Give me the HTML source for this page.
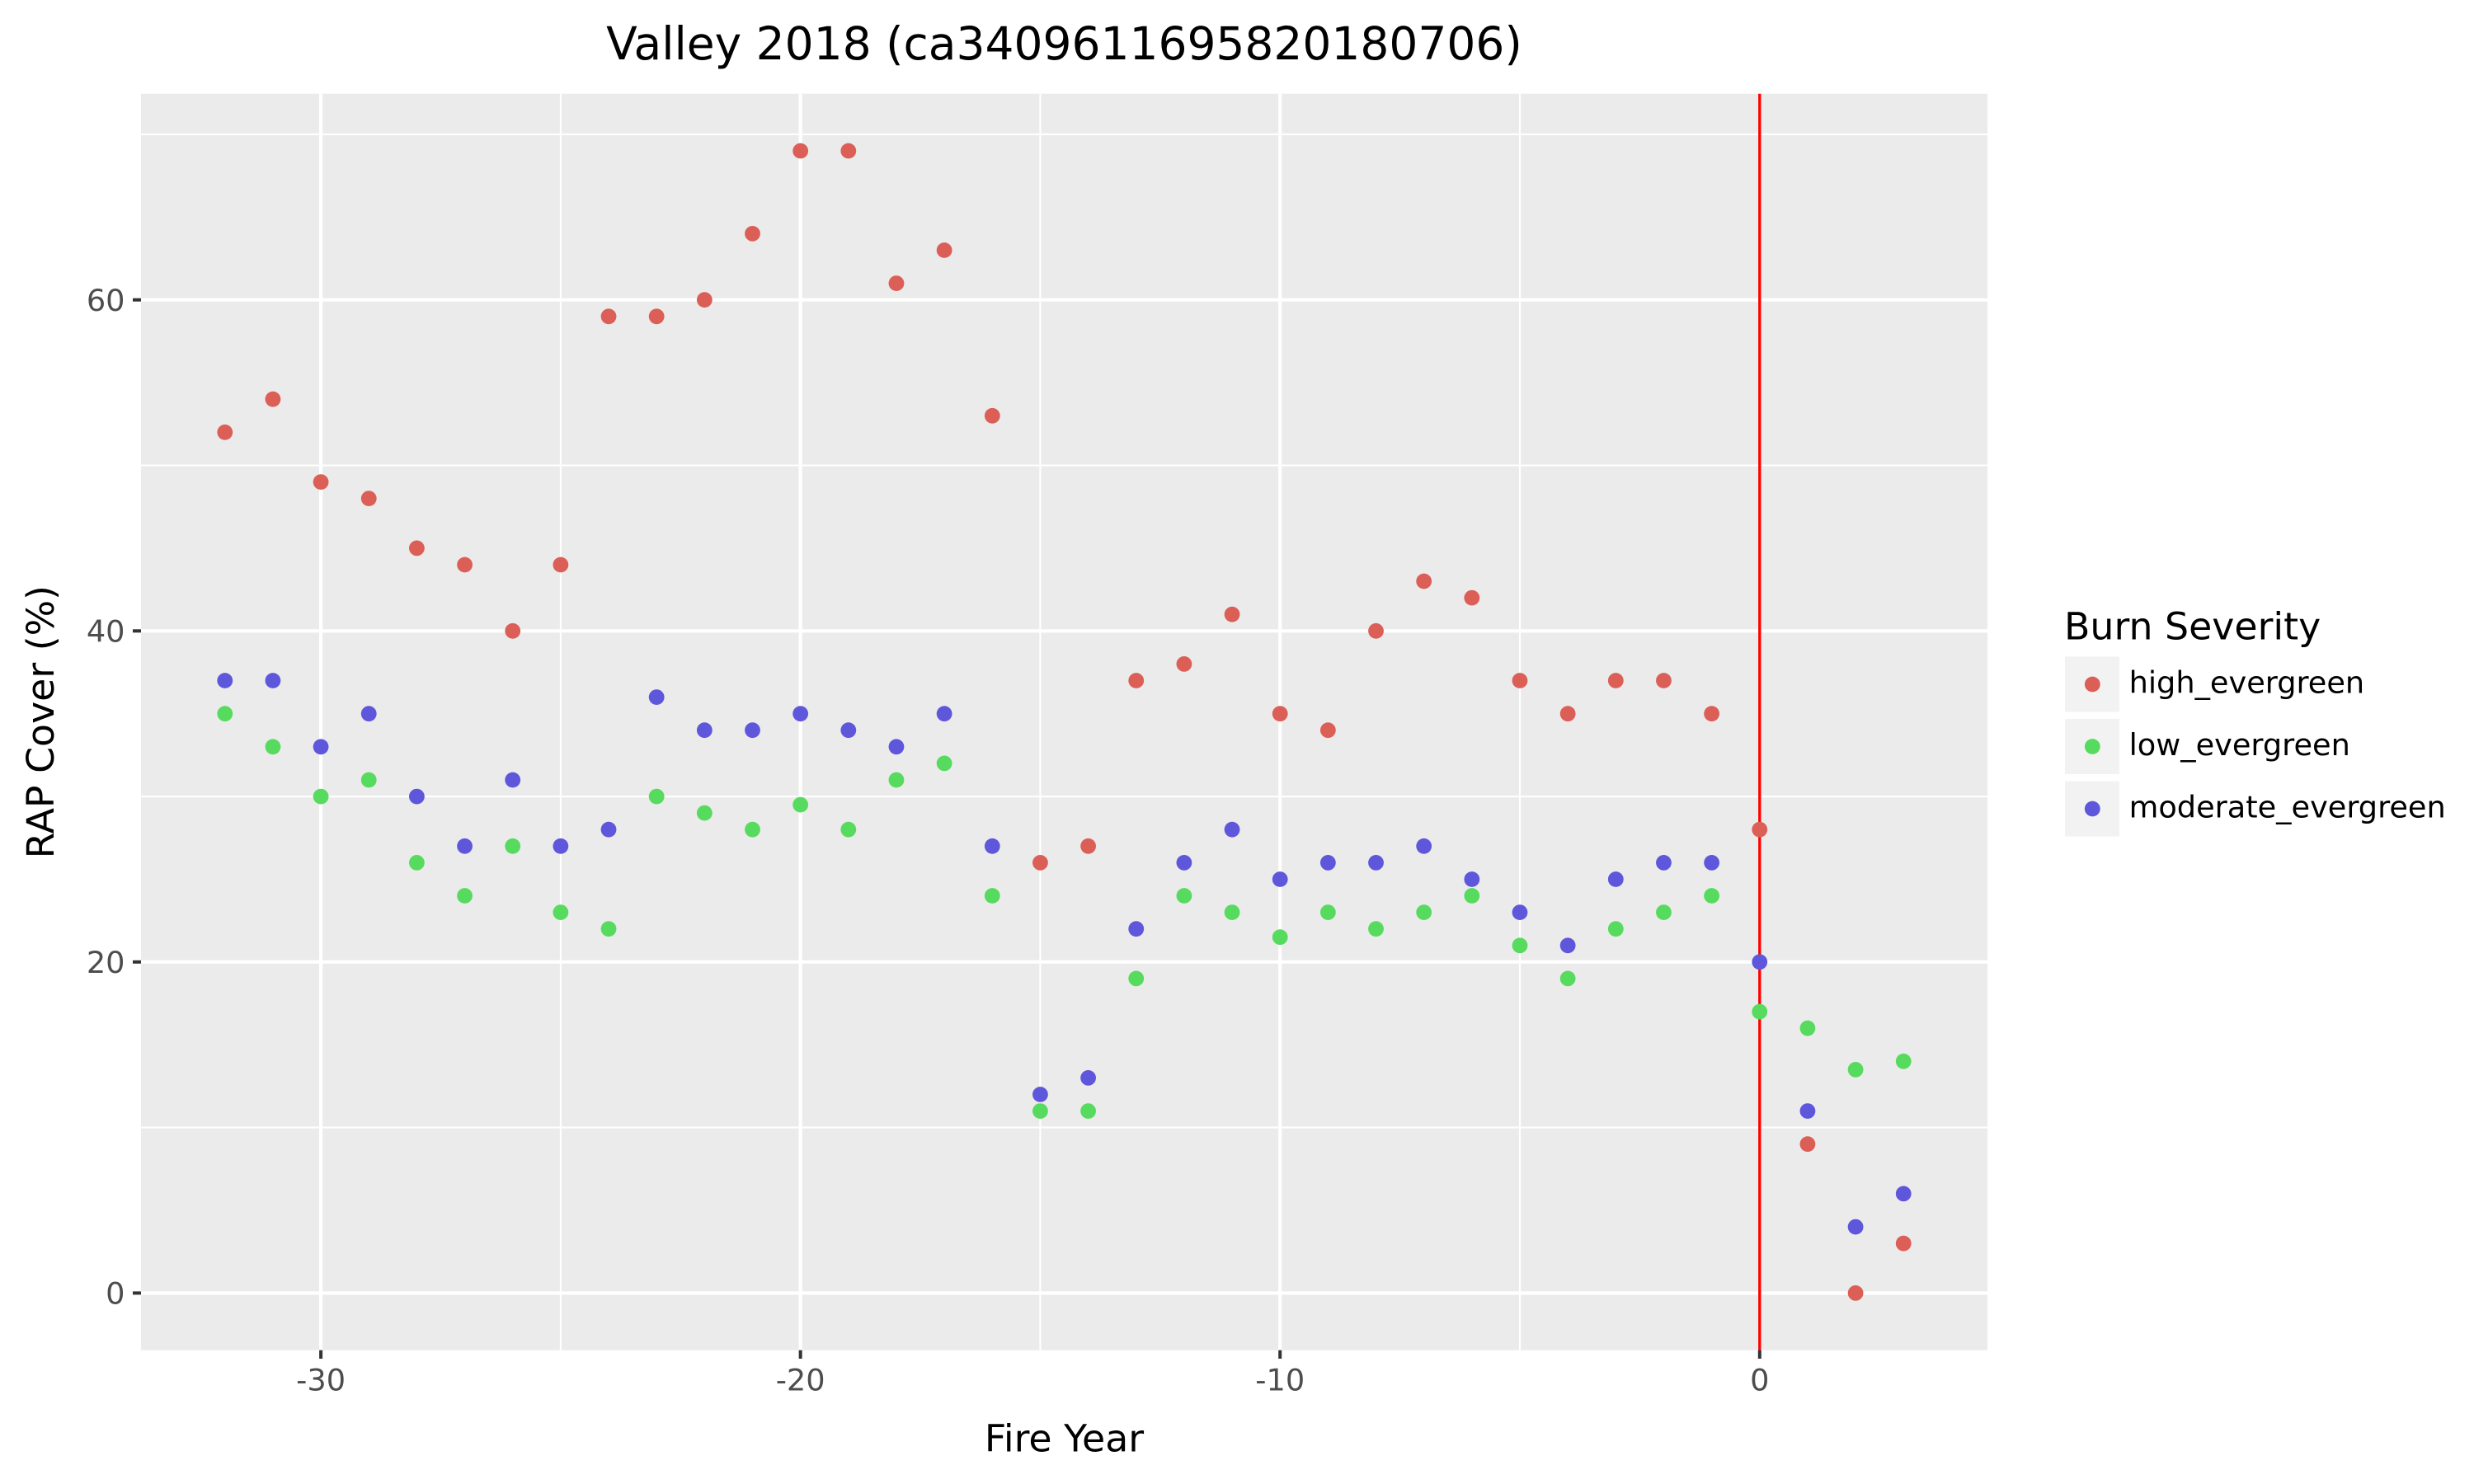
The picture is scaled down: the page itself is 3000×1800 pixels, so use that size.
<!DOCTYPE html>
<html>
<head>
<meta charset="utf-8">
<style>
html,body{margin:0;padding:0;background:#fff;}
svg{display:block;}
text{font-family:"DejaVu Sans","Liberation Sans",sans-serif;}
</style>
</head>
<body>
<svg xmlns="http://www.w3.org/2000/svg" width="3000" height="1800" viewBox="0 0 3000 1800">
<rect x="0" y="0" width="3000" height="1800" fill="#ffffff"/>
<!-- panel -->
<rect x="171" y="113.7" width="2239" height="1524" fill="#ebebeb"/>
<!-- minor grid -->
<g stroke="#ffffff" stroke-width="2.08">
<line x1="171" x2="2410" y1="1367.6" y2="1367.6"/>
<line x1="171" x2="2410" y1="966.1" y2="966.1"/>
<line x1="171" x2="2410" y1="564.5" y2="564.5"/>
<line x1="171" x2="2410" y1="162.9" y2="162.9"/>
<line x1="679.9" x2="679.9" y1="113.7" y2="1637.7"/>
<line x1="1261.4" x2="1261.4" y1="113.7" y2="1637.7"/>
<line x1="1843.0" x2="1843.0" y1="113.7" y2="1637.7"/>
</g>
<!-- major grid -->
<g stroke="#ffffff" stroke-width="4.17">
<line x1="171" x2="2410" y1="1568.4" y2="1568.4"/>
<line x1="171" x2="2410" y1="1166.8" y2="1166.8"/>
<line x1="171" x2="2410" y1="765.3" y2="765.3"/>
<line x1="171" x2="2410" y1="363.7" y2="363.7"/>
<line x1="389.1" x2="389.1" y1="113.7" y2="1637.7"/>
<line x1="970.65" x2="970.65" y1="113.7" y2="1637.7"/>
<line x1="1552.2" x2="1552.2" y1="113.7" y2="1637.7"/>
<line x1="2133.8" x2="2133.8" y1="113.7" y2="1637.7"/>
</g>
<!-- vline -->
<line x1="2133.8" x2="2133.8" y1="113.7" y2="1637.7" stroke="#ff0000" stroke-width="3.4"/>
<!-- high_evergreen -->
<g fill="#db5f57">
<circle cx="272.77" cy="524.3" r="9.4"/>
<circle cx="330.93" cy="484.2" r="9.4"/>
<circle cx="389.09" cy="584.6" r="9.4"/>
<circle cx="447.24" cy="604.6" r="9.4"/>
<circle cx="505.40" cy="664.9" r="9.4"/>
<circle cx="563.56" cy="685.0" r="9.4"/>
<circle cx="621.71" cy="765.3" r="9.4"/>
<circle cx="679.87" cy="685.0" r="9.4"/>
<circle cx="738.03" cy="383.8" r="9.4"/>
<circle cx="796.18" cy="383.8" r="9.4"/>
<circle cx="854.34" cy="363.7" r="9.4"/>
<circle cx="912.49" cy="283.4" r="9.4"/>
<circle cx="970.65" cy="183.0" r="9.4"/>
<circle cx="1028.81" cy="183.0" r="9.4"/>
<circle cx="1086.96" cy="343.6" r="9.4"/>
<circle cx="1145.12" cy="303.5" r="9.4"/>
<circle cx="1203.28" cy="504.3" r="9.4"/>
<circle cx="1261.43" cy="1046.4" r="9.4"/>
<circle cx="1319.59" cy="1026.3" r="9.4"/>
<circle cx="1377.74" cy="825.5" r="9.4"/>
<circle cx="1435.90" cy="805.4" r="9.4"/>
<circle cx="1494.06" cy="745.2" r="9.4"/>
<circle cx="1552.21" cy="865.7" r="9.4"/>
<circle cx="1610.37" cy="885.7" r="9.4"/>
<circle cx="1668.53" cy="765.3" r="9.4"/>
<circle cx="1726.68" cy="705.0" r="9.4"/>
<circle cx="1784.84" cy="725.1" r="9.4"/>
<circle cx="1842.99" cy="825.5" r="9.4"/>
<circle cx="1901.15" cy="865.7" r="9.4"/>
<circle cx="1959.31" cy="825.5" r="9.4"/>
<circle cx="2017.46" cy="825.5" r="9.4"/>
<circle cx="2075.62" cy="865.7" r="9.4"/>
<circle cx="2133.77" cy="1006.2" r="9.4"/>
<circle cx="2191.93" cy="1387.7" r="9.4"/>
<circle cx="2250.09" cy="1568.4" r="9.4"/>
<circle cx="2308.24" cy="1508.2" r="9.4"/>
</g>
<!-- low_evergreen -->
<g fill="#57db5f">
<circle cx="272.77" cy="865.7" r="9.4"/>
<circle cx="330.93" cy="905.8" r="9.4"/>
<circle cx="389.09" cy="966.1" r="9.4"/>
<circle cx="447.24" cy="946.0" r="9.4"/>
<circle cx="505.40" cy="1046.4" r="9.4"/>
<circle cx="563.56" cy="1086.5" r="9.4"/>
<circle cx="621.71" cy="1026.3" r="9.4"/>
<circle cx="679.87" cy="1106.6" r="9.4"/>
<circle cx="738.03" cy="1126.7" r="9.4"/>
<circle cx="796.18" cy="966.1" r="9.4"/>
<circle cx="854.34" cy="986.1" r="9.4"/>
<circle cx="912.49" cy="1006.2" r="9.4"/>
<circle cx="970.65" cy="976.1" r="9.4"/>
<circle cx="1028.81" cy="1006.2" r="9.4"/>
<circle cx="1086.96" cy="946.0" r="9.4"/>
<circle cx="1145.12" cy="925.9" r="9.4"/>
<circle cx="1203.28" cy="1086.5" r="9.4"/>
<circle cx="1261.43" cy="1347.6" r="9.4"/>
<circle cx="1319.59" cy="1347.6" r="9.4"/>
<circle cx="1377.74" cy="1186.9" r="9.4"/>
<circle cx="1435.90" cy="1086.5" r="9.4"/>
<circle cx="1494.06" cy="1106.6" r="9.4"/>
<circle cx="1552.21" cy="1136.7" r="9.4"/>
<circle cx="1610.37" cy="1106.6" r="9.4"/>
<circle cx="1668.53" cy="1126.7" r="9.4"/>
<circle cx="1726.68" cy="1106.6" r="9.4"/>
<circle cx="1784.84" cy="1086.5" r="9.4"/>
<circle cx="1842.99" cy="1146.8" r="9.4"/>
<circle cx="1901.15" cy="1186.9" r="9.4"/>
<circle cx="1959.31" cy="1126.7" r="9.4"/>
<circle cx="2017.46" cy="1106.6" r="9.4"/>
<circle cx="2075.62" cy="1086.5" r="9.4"/>
<circle cx="2133.77" cy="1227.1" r="9.4"/>
<circle cx="2191.93" cy="1247.2" r="9.4"/>
<circle cx="2250.09" cy="1297.4" r="9.4"/>
<circle cx="2308.24" cy="1287.3" r="9.4"/>
</g>
<!-- moderate_evergreen -->
<g fill="#5f57db">
<circle cx="272.77" cy="825.5" r="9.4"/>
<circle cx="330.93" cy="825.5" r="9.4"/>
<circle cx="389.09" cy="905.8" r="9.4"/>
<circle cx="447.24" cy="865.7" r="9.4"/>
<circle cx="505.40" cy="966.1" r="9.4"/>
<circle cx="563.56" cy="1026.3" r="9.4"/>
<circle cx="621.71" cy="946.0" r="9.4"/>
<circle cx="679.87" cy="1026.3" r="9.4"/>
<circle cx="738.03" cy="1006.2" r="9.4"/>
<circle cx="796.18" cy="845.6" r="9.4"/>
<circle cx="854.34" cy="885.7" r="9.4"/>
<circle cx="912.49" cy="885.7" r="9.4"/>
<circle cx="970.65" cy="865.7" r="9.4"/>
<circle cx="1028.81" cy="885.7" r="9.4"/>
<circle cx="1086.96" cy="905.8" r="9.4"/>
<circle cx="1145.12" cy="865.7" r="9.4"/>
<circle cx="1203.28" cy="1026.3" r="9.4"/>
<circle cx="1261.43" cy="1327.5" r="9.4"/>
<circle cx="1319.59" cy="1307.4" r="9.4"/>
<circle cx="1377.74" cy="1126.7" r="9.4"/>
<circle cx="1435.90" cy="1046.4" r="9.4"/>
<circle cx="1494.06" cy="1006.2" r="9.4"/>
<circle cx="1552.21" cy="1066.5" r="9.4"/>
<circle cx="1610.37" cy="1046.4" r="9.4"/>
<circle cx="1668.53" cy="1046.4" r="9.4"/>
<circle cx="1726.68" cy="1026.3" r="9.4"/>
<circle cx="1784.84" cy="1066.5" r="9.4"/>
<circle cx="1842.99" cy="1106.6" r="9.4"/>
<circle cx="1901.15" cy="1146.8" r="9.4"/>
<circle cx="1959.31" cy="1066.5" r="9.4"/>
<circle cx="2017.46" cy="1046.4" r="9.4"/>
<circle cx="2075.62" cy="1046.4" r="9.4"/>
<circle cx="2133.77" cy="1166.8" r="9.4"/>
<circle cx="2191.93" cy="1347.6" r="9.4"/>
<circle cx="2250.09" cy="1488.1" r="9.4"/>
<circle cx="2308.24" cy="1447.9" r="9.4"/>
</g>
<!-- ticks -->
<g stroke="#333333" stroke-width="4">
<line x1="161" x2="171" y1="1568.4" y2="1568.4"/>
<line x1="161" x2="171" y1="1166.8" y2="1166.8"/>
<line x1="161" x2="171" y1="765.3" y2="765.3"/>
<line x1="161" x2="171" y1="363.7" y2="363.7"/>
<line x1="389.1" x2="389.1" y1="1637.7" y2="1648"/>
<line x1="970.65" x2="970.65" y1="1637.7" y2="1648"/>
<line x1="1552.2" x2="1552.2" y1="1637.7" y2="1648"/>
<line x1="2133.8" x2="2133.8" y1="1637.7" y2="1648"/>
</g>
<!-- tick labels -->
<g fill="#4d4d4d" font-size="36.7">
<text x="151.5" y="1581.7" text-anchor="end">0</text>
<text x="151.5" y="1180.1" text-anchor="end">20</text>
<text x="151.5" y="778.6" text-anchor="end">40</text>
<text x="151.5" y="377.0" text-anchor="end">60</text>
<text x="389.1" y="1686.5" text-anchor="middle">-30</text>
<text x="970.65" y="1686.5" text-anchor="middle">-20</text>
<text x="1552.2" y="1686.5" text-anchor="middle">-10</text>
<text x="2133.8" y="1686.5" text-anchor="middle">0</text>
</g>
<!-- axis titles -->
<text x="1290.5" y="1760.7" text-anchor="middle" font-size="45.8" fill="#000">Fire Year</text>
<text transform="translate(65,875.7) rotate(-90)" x="0" y="0" text-anchor="middle" font-size="45.8" fill="#000">RAP Cover (%)</text>
<!-- title -->
<text x="1290.5" y="72" text-anchor="middle" font-size="55" fill="#000">Valley 2018 (ca3409611695820180706)</text>
<!-- legend -->
<text x="2503" y="775.5" font-size="45.8" fill="#000">Burn Severity</text>
<rect x="2504" y="796.5" width="66" height="67" fill="#f2f2f2"/>
<rect x="2504" y="872" width="66" height="67" fill="#f2f2f2"/>
<rect x="2504" y="947.5" width="66" height="67" fill="#f2f2f2"/>
<circle cx="2537.3" cy="830" r="9.4" fill="#db5f57"/>
<circle cx="2537.3" cy="905.5" r="9.4" fill="#57db5f"/>
<circle cx="2537.3" cy="981" r="9.4" fill="#5f57db"/>
<g font-size="36.7" fill="#000">
<text x="2581.6" y="840.6">high_evergreen</text>
<text x="2581.6" y="916.1">low_evergreen</text>
<text x="2581.6" y="991.6">moderate_evergreen</text>
</g>
</svg>
</body>
</html>
